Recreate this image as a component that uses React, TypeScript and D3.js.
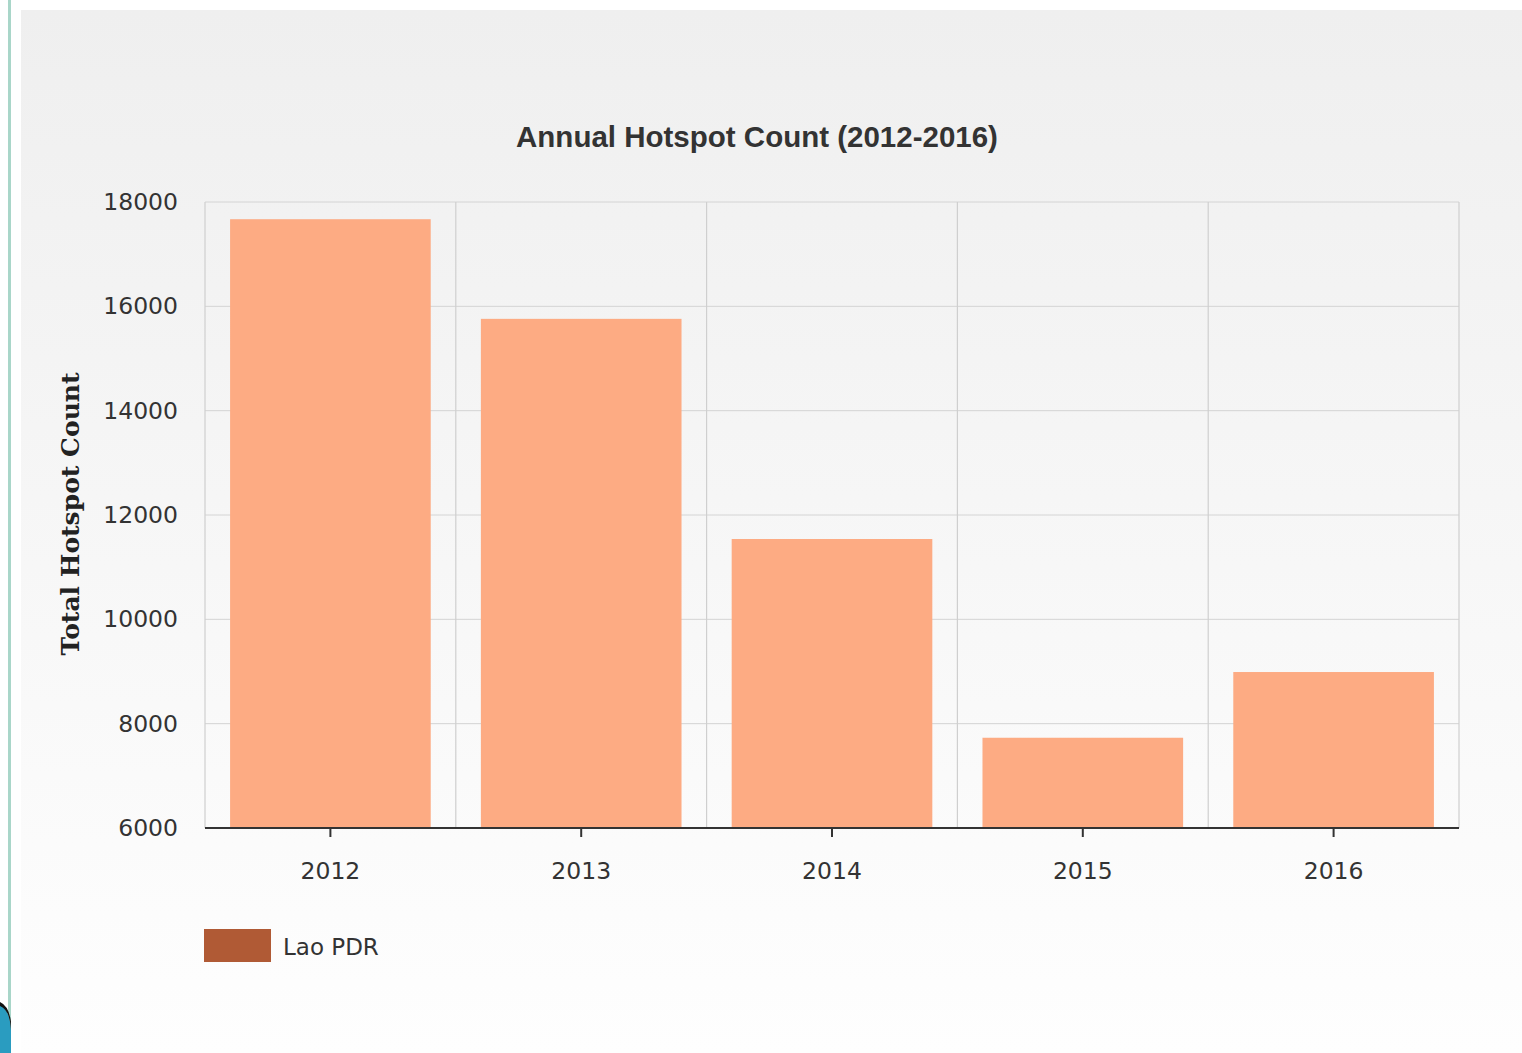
import React from "react";
import * as d3 from "d3";

const years = ["2012", "2013", "2014", "2015", "2016"];
const hotspots = [17670, 15760, 11540, 7730, 8990];
const yTicks = [6000, 8000, 10000, 12000, 14000, 16000, 18000];
const seriesName = "Lao PDR";
const chartTitle = "Annual Hotspot Count (2012-2016)";
const yTitle = "Total Hotspot Count";

const W = 1522;
const H = 1053;
const left = 205;
const right = 1459;
const top = 202;
const bottom = 828;

export default function App() {
  const x = d3.scaleBand<string>().domain(years).range([left, right]).paddingInner(0.2).paddingOuter(0.1);
  const y = d3.scaleLinear().domain([6000, 18000]).range([bottom, top]);
  const boundaries = years.map((_, i) => left + i * (right - left) / years.length).concat([right]);

  return (
    <svg width={W} height={H} style={{ position: "absolute", left: 0, top: 0, display: "block" }}>
      <defs>
        <linearGradient id="bg" x1="0" y1="0" x2="0" y2="1">
          <stop offset="0" stopColor="#efefef" />
          <stop offset="1" stopColor="#fefefe" />
        </linearGradient>
      </defs>
      <rect x={0} y={0} width={W} height={H} fill="#ffffff" />
      <rect x={21} y={10} width={W - 21} height={H - 10} fill="url(#bg)" />
      <rect x={8} y={0} width={3} height={H} fill="#a9d6c9" />
      <path d="M0,1005 Q10,1010 11,1030 L11,1053 L0,1053 Z" fill="#2a9cc0" />
      <path d="M0,1002 Q9,1006 11,1022 L11,1030 Q10,1010 0,1006 Z" fill="#111" />

      {/* grid */}
      {yTicks.slice(1).map((t) => (
        <line key={"h" + t} x1={left} x2={right} y1={y(t)} y2={y(t)} stroke="#d4d4d4" strokeWidth={1} />
      ))}
      {boundaries.slice(1).map((b, i) => (
        <line key={"v" + i} x1={b} x2={b} y1={top} y2={bottom} stroke="#cfcfcf" strokeWidth={1.2} />
      ))}
      <line x1={left} x2={left} y1={top} y2={bottom} stroke="#cfcfcf" strokeWidth={1.2} />

      {/* bars */}
      {years.map((yr, i) => (
        <rect
          key={yr}
          x={x(yr)!}
          y={y(hotspots[i])}
          width={x.bandwidth()}
          height={bottom - y(hotspots[i])}
          fill="#fdab83"
        />
      ))}

      {/* x axis */}
      <line x1={left} x2={right} y1={bottom} y2={bottom} stroke="#333" strokeWidth={2} />
      {years.map((yr) => (
        <g key={"xt" + yr}>
          <line x1={x(yr)! + x.bandwidth() / 2} x2={x(yr)! + x.bandwidth() / 2} y1={bottom} y2={bottom + 9} stroke="#333" strokeWidth={2} />
          <text
            x={x(yr)! + x.bandwidth() / 2}
            y={879}
            textAnchor="middle"
            fontFamily="DejaVu Sans, Verdana, sans-serif"
            fontSize={23.5}
            fill="#333"
          >
            {yr}
          </text>
        </g>
      ))}

      {/* y axis labels */}
      {yTicks.map((t) => (
        <text
          key={"yt" + t}
          x={178}
          y={y(t) + 8}
          textAnchor="end"
          fontFamily="DejaVu Sans, Verdana, sans-serif"
          fontSize={23.5}
          fill="#333"
        >
          {t}
        </text>
      ))}

      <text
        transform={`translate(79, ${(373 + 655) / 2}) rotate(-90)`}
        textAnchor="middle"
        fontFamily="DejaVu Serif, serif"
        fontWeight="bold"
        fontSize={25}
        fill="#222"
      >
        {yTitle}
      </text>

      <text
        x={757}
        y={147}
        textAnchor="middle"
        fontFamily="Liberation Sans, Arial, sans-serif"
        fontWeight="bold"
        fontSize={29.5}
        fill="#333"
      >
        {chartTitle}
      </text>

      {/* legend */}
      <rect x={204} y={929} width={67} height={33} fill="#b05a35" />
      <text x={283} y={955} fontFamily="DejaVu Sans, Verdana, sans-serif" fontSize={23} fill="#333">
        {seriesName}
      </text>
    </svg>
  );
}
